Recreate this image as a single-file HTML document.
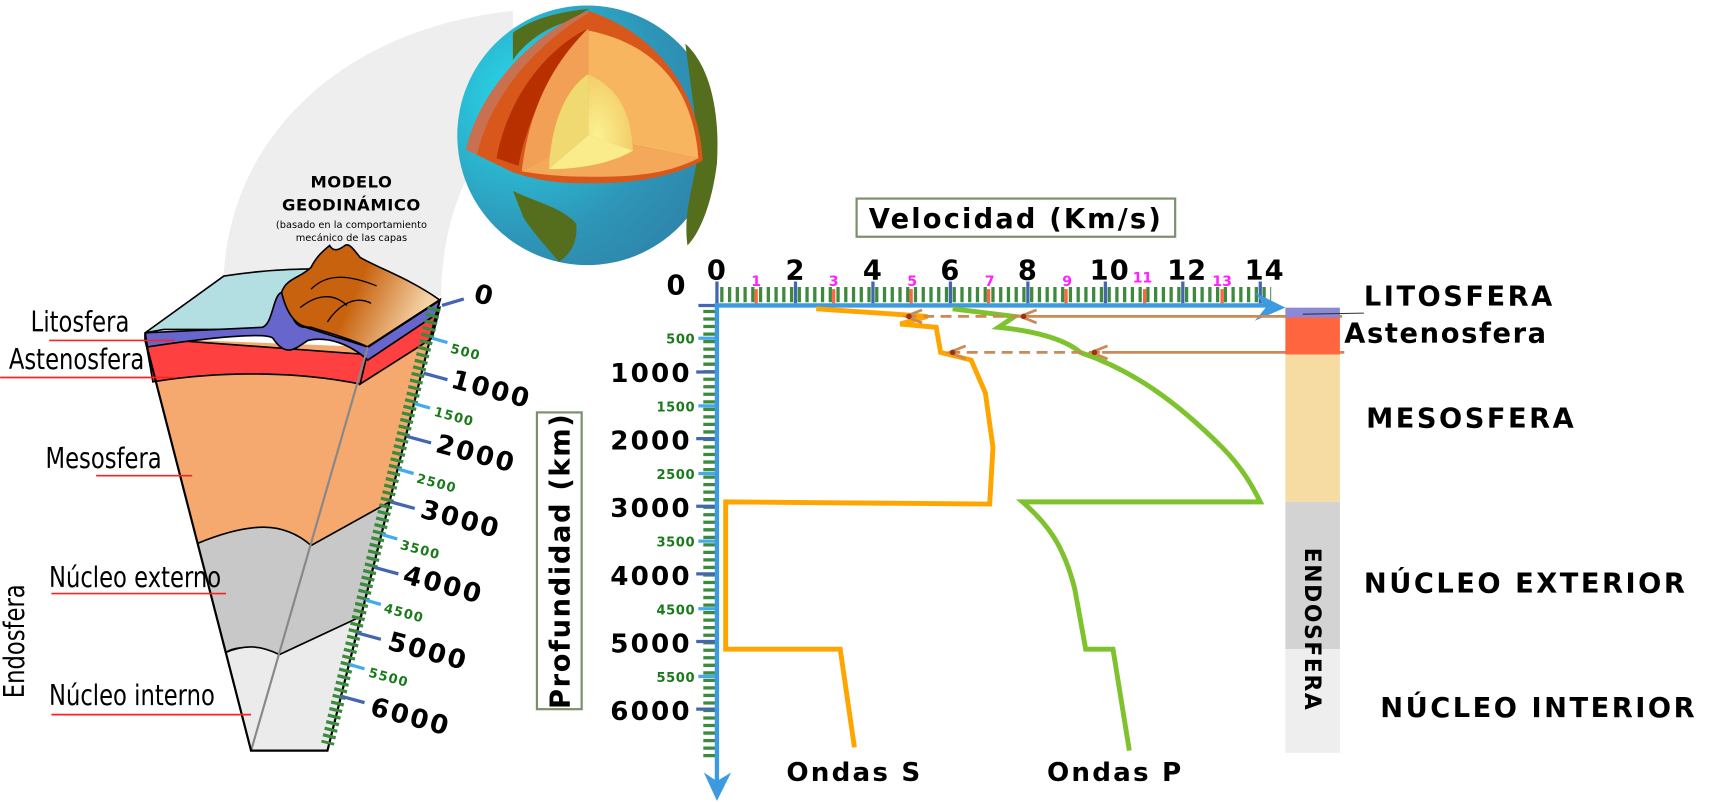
<!DOCTYPE html>
<html><head><meta charset="utf-8"><style>
html,body{margin:0;padding:0;background:#fff;overflow:hidden;width:1711px;height:803px;}
svg{display:block;}
text{font-family:"DejaVu Sans","Liberation Sans",sans-serif;}
</style></head><body>
<svg width="1711" height="803" viewBox="0 0 1568 736" xmlns="http://www.w3.org/2000/svg">
<defs>
<radialGradient id="oc" cx="0.25" cy="0.35" r="0.9"><stop offset="0" stop-color="#28d8ea"/><stop offset="0.6" stop-color="#2e96b8"/><stop offset="1" stop-color="#2e7ea6"/></radialGradient>
<linearGradient id="mt" x1="0" y1="0" x2="1" y2="0.3"><stop offset="0.55" stop-color="#c8620e"/><stop offset="1" stop-color="#f5d3a8"/></linearGradient>
<radialGradient id="core" cx="0.2" cy="0.8" r="1"><stop offset="0" stop-color="#fbf190"/><stop offset="1" stop-color="#f1c560"/></radialGradient>
</defs>
<!-- gray band -->
<path d="M205,252 C212,120 320,25 470,10 L470,112 C430,140 405,200 404,272 Z" fill="#eeeeee"/>
<!-- globe -->
<circle cx="538" cy="124" r="119" fill="url(#oc)"/>
<path d="M470,175 C490,185 515,190 528,205 C530,225 520,235 512,240 C500,225 490,215 480,200 Z" fill="#546e1e"/>
<path d="M628,40 C650,60 660,100 657,150 C652,190 640,215 630,225 C625,190 640,160 640,130 Z" fill="#546e1e"/>
<path d="M470,30 C490,15 520,10 540,8 L520,20 C500,25 480,40 470,55 Z" fill="#546e1e"/>
<path d="M539,10 C490,30 440,80 427,137 L470,158 C500,168 520,168 541,168 C590,168 620,160 644,147 C640,80 600,30 539,10 Z" fill="#d8581c"/>
<path d="M539,10 C490,30 440,80 427,137 L437,142 C450,85 495,38 539,12 Z" fill="#c87050"/>
<path d="M539,26 C500,45 465,90 455,145 L475,152 C485,100 510,60 539,40 Z" fill="#b83000"/>
<path d="M539,26 L539,124 L478,157 C485,100 505,60 539,26 Z" fill="#f2a055"/>
<path d="M539,28 L539,124 L640,145 C635,80 600,40 539,28 Z" fill="#f6b55e"/>
<path d="M478,157 L539,124 L640,145 C610,160 580,162 541,162 C515,162 495,160 478,157 Z" fill="#f4a85a"/>
<path d="M539,68 L539,124 L580,138 C578,100 565,80 539,68 Z" fill="url(#core)"/>
<path d="M539,68 C520,80 505,110 503,155 L539,124 Z" fill="#f0d970"/>
<path d="M503,155 L539,124 L580,138 C560,150 530,155 503,155 Z" fill="#faec8a"/>
<!-- titles -->
<text x="322" y="172" text-anchor="middle" font-weight="bold" font-size="15" letter-spacing="0.5">MODELO</text>
<text x="322" y="193" text-anchor="middle" font-weight="bold" font-size="15" letter-spacing="0.5">GEODINÁMICO</text>
<text x="322" y="209" text-anchor="middle" font-size="9">(basado en la comportamiento</text>
<text x="322" y="221" text-anchor="middle" font-size="9">mecánico de las capas</text>
<!-- wedge -->
<path d="M133,310 L230,688 L300,688 L403,275 L337,318 Z" fill="#f5a96e"/>
<path d="M181,498 C230,478 260,478 285,500 L357,460 L331,565 L256,600 C235,592 215,592 207,598 Z" fill="#c8c8c8" stroke="#000" stroke-width="1.5"/>
<path d="M207,598 C225,590 240,592 256,600 L331,565 L300,688 L230,688 Z" fill="#ebebeb" stroke="#000" stroke-width="1.5"/>
<path d="M133,310 L140,350 C200,340 270,340 330,352 L337,325 Z" fill="#ff4040" stroke="#000" stroke-width="1.5"/>
<path d="M337,322 L403,282 L396,310 L330,352 Z" fill="#ff4040" stroke="#000" stroke-width="1.5"/>
<path d="M133,305 L205,253 C250,246 290,246 300,247 L270,270 C255,270 250,298 240,302 L150,302 Z" fill="#b3dfe3" stroke="#000" stroke-width="1.5"/>
<path d="M133,305 L240,300 C250,298 250,270 258,268 C268,268 262,300 280,300 L337,318 L403,275 L400,288 L337,330 C320,315 300,308 282,312 C270,320 262,328 250,310 C245,305 200,308 135,318 Z" fill="#6666cc" stroke="#000" stroke-width="1.5"/>
<path d="M258,268 C262,255 275,255 285,245 C290,235 296,230 302,225 C306,232 312,228 316,225 C320,222 325,230 330,236 C345,245 375,255 403,275 L337,318 C320,310 300,305 285,300 C270,300 262,285 258,268 Z" fill="url(#mt)" stroke="#000" stroke-width="1.5"/>
<path d="M285,265 C300,250 320,252 345,262 M275,282 C290,270 305,268 318,280 M300,295 C310,280 325,270 340,278" fill="none" stroke="#000" stroke-width="1.2"/>
<path d="M337,318 L230,688" stroke="#888" stroke-width="2" fill="none"/>
<path d="M133,305 L133,312 L230,688 L300,688 L403,275 L337,318" fill="none" stroke="#000" stroke-width="2"/>
<!-- wedge scale -->
<path d="M398,282 L300,682" stroke="#3c8a3c" stroke-width="12" stroke-dasharray="3 3.2" fill="none"/>
<g stroke="#4466b0" stroke-width="3">
<line x1="405" y1="280" x2="425" y2="274"/><line x1="388" y1="342" x2="410" y2="348"/><line x1="373" y1="400" x2="395" y2="406"/><line x1="358" y1="460" x2="380" y2="466"/><line x1="343" y1="520" x2="365" y2="526"/><line x1="327" y1="580" x2="349" y2="586"/><line x1="312" y1="638" x2="334" y2="644"/>
</g>
<g stroke="#44aaee" stroke-width="3">
<line x1="396" y1="310" x2="410" y2="314"/><line x1="380" y1="370" x2="394" y2="374"/><line x1="365" y1="430" x2="379" y2="434"/><line x1="350" y1="490" x2="364" y2="494"/><line x1="335" y1="550" x2="349" y2="554"/><line x1="320" y1="609" x2="334" y2="613"/>
</g>
<g font-weight="bold" letter-spacing="2">
<text x="433" y="276" font-size="24" transform="rotate(15 433 276)">0</text>
<text x="412" y="323" font-size="12" letter-spacing="1" fill="#1a7a1a" transform="rotate(15 412 323)">500</text>
<text x="412" y="355" font-size="24" transform="rotate(15 412 355)">1000</text>
<text x="397" y="381" font-size="12" letter-spacing="1" fill="#1a7a1a" transform="rotate(15 397 381)">1500</text>
<text x="398" y="414" font-size="24" transform="rotate(15 398 414)">2000</text>
<text x="381" y="442" font-size="12" letter-spacing="1" fill="#1a7a1a" transform="rotate(15 381 442)">2500</text>
<text x="384" y="474" font-size="24" transform="rotate(15 384 474)">3000</text>
<text x="366" y="503" font-size="12" letter-spacing="1" fill="#1a7a1a" transform="rotate(15 366 503)">3500</text>
<text x="368" y="534" font-size="24" transform="rotate(15 368 534)">4000</text>
<text x="351" y="561" font-size="12" letter-spacing="1" fill="#1a7a1a" transform="rotate(15 351 561)">4500</text>
<text x="354" y="595" font-size="24" transform="rotate(15 354 595)">5000</text>
<text x="337" y="620" font-size="12" letter-spacing="1" fill="#1a7a1a" transform="rotate(15 337 620)">5500</text>
<text x="338" y="655" font-size="24" transform="rotate(15 338 655)">6000</text>
</g>
<!-- left labels -->
<g font-family="Liberation Sans,sans-serif" font-size="26" transform="scale(0.8 1)">
<text x="35" y="304" font-family="Liberation Sans,sans-serif">Litosfera</text>
<text x="10" y="338" font-family="Liberation Sans,sans-serif">Astenosfera</text>
<text x="52" y="429" font-family="Liberation Sans,sans-serif">Mesosfera</text>
<text x="56" y="538" font-family="Liberation Sans,sans-serif">Núcleo externo</text>
<text x="56" y="646" font-family="Liberation Sans,sans-serif">Núcleo interno</text>
</g>
<text font-family="Liberation Sans,sans-serif" font-size="26" transform="translate(22 640) rotate(-90) scale(0.8 1)" x="0" y="0">Endosfera</text>
<g stroke="#ff2020" stroke-width="1.5">
<line x1="45" y1="312" x2="160" y2="312"/><line x1="0" y1="346" x2="160" y2="346"/><line x1="88" y1="436" x2="176" y2="436"/><line x1="47" y1="544" x2="207" y2="544"/><line x1="47" y1="655" x2="230" y2="655"/>
</g>
<!-- chart axes -->
<line x1="660" y1="270" x2="1165" y2="270" stroke="#3c8a3c" stroke-width="14" stroke-dasharray="3 4.1"/>
<line x1="650" y1="284" x2="650" y2="695" stroke="#3c8a3c" stroke-width="11" stroke-dasharray="3 3.9"/>
<g stroke="#4466b0" stroke-width="3">
<line x1="657" y1="258" x2="657" y2="278"/><line x1="729" y1="258" x2="729" y2="278"/><line x1="800" y1="258" x2="800" y2="278"/><line x1="871" y1="258" x2="871" y2="278"/><line x1="942" y1="258" x2="942" y2="278"/><line x1="1013" y1="258" x2="1013" y2="278"/><line x1="1084" y1="258" x2="1084" y2="278"/><line x1="1155" y1="258" x2="1155" y2="278"/>
<line x1="638" y1="341" x2="656" y2="341"/><line x1="638" y1="402" x2="656" y2="402"/><line x1="638" y1="464" x2="656" y2="464"/><line x1="638" y1="526" x2="656" y2="526"/><line x1="638" y1="588" x2="656" y2="588"/><line x1="638" y1="650" x2="656" y2="650"/>
<line x1="640" y1="280" x2="657" y2="280"/>
</g>
<g stroke="#ff6640" stroke-width="3">
<line x1="693" y1="265" x2="693" y2="278"/><line x1="764" y1="265" x2="764" y2="278"/><line x1="835" y1="265" x2="835" y2="278"/><line x1="906" y1="265" x2="906" y2="278"/><line x1="977" y1="265" x2="977" y2="278"/><line x1="1049" y1="265" x2="1049" y2="278"/><line x1="1120" y1="265" x2="1120" y2="278"/>
</g>
<g stroke="#44aaee" stroke-width="3">
<line x1="640" y1="310" x2="656" y2="310"/><line x1="640" y1="372" x2="656" y2="372"/><line x1="640" y1="434" x2="656" y2="434"/><line x1="640" y1="496" x2="656" y2="496"/><line x1="640" y1="558" x2="656" y2="558"/><line x1="640" y1="620" x2="656" y2="620"/>
</g>
<g stroke="#3c9ae0" stroke-width="4" fill="none">
<line x1="655" y1="280" x2="1170" y2="280"/>
<line x1="657" y1="278" x2="657" y2="728"/>
</g>
<path d="M1150,268 L1178,282 L1150,294 L1160,282 Z" fill="#3c9ae0"/>
<path d="M645,708 L657,734 L670,708 L657,716 Z" fill="#3c9ae0"/>
<g font-weight="bold" font-size="25" text-anchor="middle" letter-spacing="1">
<text x="657" y="256">0</text><text x="729" y="256">2</text><text x="800" y="256">4</text><text x="871" y="256">6</text><text x="942" y="256">8</text><text x="1017" y="256">10</text><text x="1088" y="256">12</text><text x="1159" y="256">14</text>
<text x="620" y="270">0</text>
</g>
<g font-weight="bold" font-size="13" fill="#ff22ff" text-anchor="middle">
<text x="693" y="262">1</text><text x="764" y="262">3</text><text x="836" y="262">5</text><text x="907" y="262">7</text><text x="978" y="262">9</text><text x="1047" y="259">11</text><text x="1120" y="262">13</text>
</g>
<g font-weight="bold" text-anchor="end">
<g font-size="24" letter-spacing="2"><text x="634" y="350">1000</text><text x="634" y="412">2000</text><text x="634" y="474">3000</text><text x="634" y="536">4000</text><text x="634" y="598">5000</text><text x="634" y="660">6000</text></g>
<g font-size="12" fill="#1a7a1a" letter-spacing="0.5"><text x="637" y="315">500</text><text x="637" y="377">1500</text><text x="637" y="439">2500</text><text x="637" y="501">3500</text><text x="637" y="563">4500</text><text x="637" y="625">5500</text></g>
</g>
<rect x="785" y="182" width="292" height="35" fill="#fff" stroke="#7a8f6a" stroke-width="2"/>
<text x="931" y="209" text-anchor="middle" font-weight="bold" font-size="25" letter-spacing="2">Velocidad (Km/s)</text>
<rect x="492" y="378" width="41" height="272" fill="#fff" stroke="#7a8f6a" stroke-width="2"/>
<text x="522" y="514" text-anchor="middle" font-weight="bold" font-size="25" letter-spacing="1.5" transform="rotate(-90 522 514)">Profundidad (km)</text>
<!-- curves -->
<polyline points="748,283 850,290 825,297 858,300 862,323 890,330 903,360 910,410 907,462 665,460 665,595 770,595 783,685" fill="none" stroke="#ffa500" stroke-width="4.5"/>
<path d="M873,283 L930,290 L915,300 C945,303 975,310 990,323 C1040,340 1080,370 1120,410 C1140,430 1150,450 1155,460 L937,460 C960,480 975,500 985,540 L995,595 L1020,595 L1035,688" fill="none" stroke="#7ec22e" stroke-width="4.5"/>
<g stroke="#cc8855" stroke-width="2.5" fill="none">
<line x1="830" y1="290" x2="935" y2="290" stroke-dasharray="10 6"/>
<line x1="935" y1="290" x2="1230" y2="290"/>
<line x1="870" y1="323" x2="1010" y2="323" stroke-dasharray="10 6"/>
<line x1="1010" y1="323" x2="1232" y2="323"/>
<path d="M845,284 L830,290 L845,296 M950,284 L935,290 L950,296 M885,317 L870,323 L885,329 M1015,317 L1000,323 L1015,329"/>
</g>
<g fill="#a03010"><circle cx="833" cy="290" r="2.5"/><circle cx="938" cy="290" r="2.5"/><circle cx="873" cy="323" r="2.5"/><circle cx="1003" cy="323" r="2.5"/></g>
<text x="783" y="716" text-anchor="middle" font-weight="bold" font-size="24" letter-spacing="2">Ondas S</text>
<text x="1022" y="716" text-anchor="middle" font-weight="bold" font-size="24" letter-spacing="2">Ondas P</text>
<!-- right column -->
<rect x="1178" y="282" width="50" height="9" fill="#8b88d8"/>
<rect x="1178" y="291" width="50" height="34" fill="#ff6640"/>
<rect x="1178" y="325" width="50" height="135" fill="#f6dca2"/>
<rect x="1178" y="460" width="50" height="135" fill="#d3d3d3"/>
<rect x="1178" y="595" width="50" height="95" fill="#eeeeee"/>
<line x1="1194" y1="288" x2="1250" y2="287" stroke="#333" stroke-width="1"/>
<text font-weight="bold" font-size="20" letter-spacing="1.5" transform="translate(1196 502) rotate(90)">ENDOSFERA</text>
<g font-weight="bold" font-size="25" letter-spacing="2.3">
<text x="1250" y="280">LITOSFERA</text>
<text x="1232" y="314" letter-spacing="1.5">Astenosfera</text>
<text x="1252" y="392">MESOSFERA</text>
<text x="1250" y="543">NÚCLEO EXTERIOR</text>
<text x="1265" y="657">NÚCLEO INTERIOR</text>
</g>
</svg>
</body></html>
